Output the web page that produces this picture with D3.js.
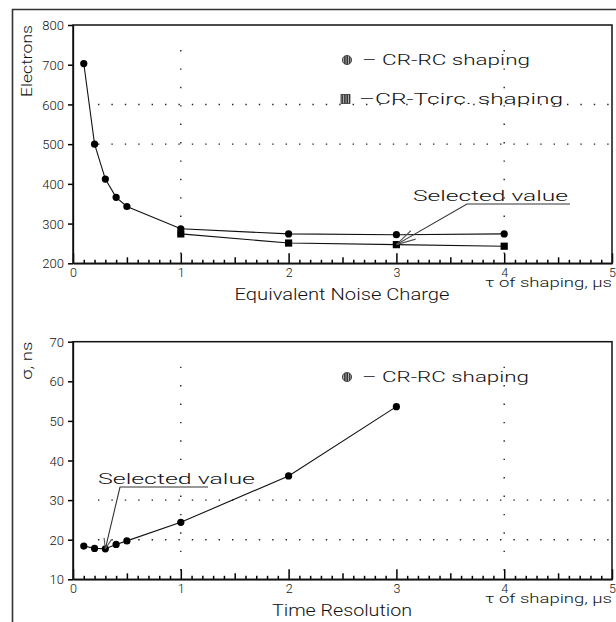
<!DOCTYPE html>
<html>
<head>
<meta charset="utf-8">
<script src="https://cdn.jsdelivr.net/npm/d3@7"></script>
<style>
body{margin:0;background:#fff;}
text{font-family:Roboto,"Liberation Sans",Arial,sans-serif;font-weight:300;fill:#111;}
</style>
</head>
<body>
<div id="chart"></div>
<script>
// data
var tauRC = [0.1,0.2,0.3,0.4,0.5,1,2,3,4];
var encRC = [703,500,412,366,343,287,274,272,274];
var tauTc = [1,2,3,4];
var encTc = [274,251,247,243];
var tauTime = [0.1,0.2,0.3,0.4,0.5,1,2,3];
var sigmaRC = [18.4,17.8,17.7,18.8,19.7,24.4,36.1,53.6];
var tauTicks = [0,1,2,3,4,5];
var tauMinor = [0.1,0.2,0.3,0.4,0.5,0.6,0.7,0.8,0.9];
var encTicks = [200,300,400,500,600,700,800];
var sigmaTicks = [10,20,30,40,50,60,70];
var encGrid = [500,600];
var sigmaGrid = [20,30];
var tauGrid = [1,4];

var svg = d3.select("#chart").append("svg")
	.attr("width",616)
	.attr("height",622);

var defs = svg.append("defs");
var pat = defs.append("pattern")
	.attr("id","stripes")
	.attr("patternUnits","userSpaceOnUse")
	.attr("width",2.4)
	.attr("height",4);
pat.append("rect").attr("width",2.4).attr("height",4).attr("fill","#333");
pat.append("rect").attr("width",0.9).attr("height",4).attr("fill","#bbb");

//outer frame
svg.append("path")
	.attr("d","M12.5,622V9.5H616")
	.attr("fill","none")
	.attr("stroke","#333")
	.attr("stroke-width",1.6);

var x = d3.scaleLinear().domain([0,5]).range([73,612]);
// every tenth between the integer ticks
var minorTicks = [];
tauTicks.slice(0,-1).forEach(function(t){
	tauMinor.forEach(function(m){ minorTicks.push(t+m); });
});

function panel(cfg){
	var y = d3.scaleLinear().domain(cfg.ydom).range([cfg.bottom,cfg.top]);
	var g = svg.append("g");
	//grid
	g.selectAll(".hg").data(cfg.grid).enter().append("line")
		.attr("x1",x(0)+25).attr("x2",x(5))
		.attr("y1",function(d){return y(d);}).attr("y2",function(d){return y(d);})
		.attr("stroke","#222").attr("stroke-width",1.4)
		.attr("stroke-dasharray","1.4,12");
	g.selectAll(".vg").data(tauGrid).enter().append("line")
		.attr("y1",cfg.top+25).attr("y2",cfg.bottom)
		.attr("x1",function(d){return x(d);}).attr("x2",function(d){return x(d);})
		.attr("stroke","#222").attr("stroke-width",1.4)
		.attr("stroke-dasharray","1.4,17");
	//axes
	var gx = g.append("g").attr("transform","translate(0,"+cfg.bottom+")")
		.call(d3.axisTop(x).tickValues(tauTicks).tickSizeInner(10).tickSizeOuter(0).tickFormat(d3.format("d")));
	gx.selectAll(".tick text").attr("dy",0).attr("y",14).style("font-size","12.5px");
	var gm = g.append("g").attr("transform","translate(0,"+cfg.bottom+")")
		.call(d3.axisTop(x).tickValues(minorTicks).tickSizeInner(3.5).tickSizeOuter(0).tickFormat(""));
	gm.selectAll(".tick line").filter(function(d){return Math.abs(d%1-0.5)<0.01;}).attr("y2",-6);
	gm.select(".domain").remove();
	var gy = g.append("g").attr("transform","translate("+x(0)+",0)")
		.call(d3.axisLeft(y).tickValues(cfg.yticks).tickSizeInner(5).tickSizeOuter(0).tickPadding(4).tickFormat(d3.format("d")));
	gy.selectAll("text").style("font-size","13px").attr("dy","0.36em");
	g.selectAll(".tick line").attr("stroke","#000").attr("stroke-width",1.5);
	g.selectAll(".domain").attr("stroke","#000").attr("stroke-width",1.3);
	g.append("rect")
		.attr("x",x(0)).attr("y",cfg.top)
		.attr("width",x(5)-x(0)).attr("height",cfg.bottom-cfg.top)
		.attr("fill","none").attr("stroke","#111").attr("stroke-width",1.5);
	//titles
	g.append("text").text(cfg.title)
		.attr("x",342).attr("y",cfg.bottom+37)
		.attr("text-anchor","middle")
		.attr("textLength",cfg.titleLen).attr("lengthAdjust","spacingAndGlyphs")
		.style("font-size","16px");
	g.append("text").text("\u03c4 of shaping, \u03bcs")
		.attr("x",485).attr("y",cfg.bottom+24)
		.attr("textLength",127).attr("lengthAdjust","spacingAndGlyphs")
		.style("font-size","12.5px");
	g.append("text").text(cfg.ytitle)
		.attr("transform","translate(32,"+cfg.top+") rotate(-90)")
		.attr("text-anchor","end")
		.attr("textLength",cfg.ytitleLen).attr("lengthAdjust","spacingAndGlyphs")
		.style("font-size","15px");
	//series
	var line = d3.line().x(function(d){return x(d[0]);}).y(function(d){return y(d[1]);});
	cfg.series.forEach(function(s){
		var pts = d3.zip(s.tau,s.val);
		g.append("path").attr("d",line(pts))
			.attr("fill","none").attr("stroke","#111").attr("stroke-width",1.1);
		if(s.shape=="circle"){
			g.selectAll(null).data(pts).enter().append("circle")
				.attr("cx",function(d){return x(d[0]);})
				.attr("cy",function(d){return y(d[1]);})
				.attr("r",3.6).attr("fill","#000");
		}else{
			g.selectAll(null).data(pts).enter().append("rect")
				.attr("x",function(d){return x(d[0])-3.6;})
				.attr("y",function(d){return y(d[1])-3.6;})
				.attr("width",7.2).attr("height",7.2).attr("fill","#000");
		}
	});
	//legend
	cfg.legend.forEach(function(l){
		if(l.shape=="circle"){
			g.append("circle").attr("cx",347).attr("cy",l.y-5)
				.attr("r",4.6).attr("fill","url(#stripes)").attr("stroke","#333").attr("stroke-width",0.8);
		}else{
			g.append("rect").attr("x",341).attr("y",l.y-9.5)
				.attr("width",9).attr("height",9)
				.attr("fill","url(#stripes)").attr("stroke","#333").attr("stroke-width",0.8);
		}
		g.append("text").text(l.label)
			.attr("x",l.x).attr("y",l.y)
			.attr("textLength",l.len).attr("lengthAdjust","spacingAndGlyphs")
			.style("font-size","15px");
	});
	//selected value note
	var s = cfg.sel;
	var tx = x(s.tau), ty = y(s.val);
	g.append("text").text("Selected value")
		.attr("x",s.tx).attr("y",s.ty)
		.attr("textLength",s.tlen).attr("lengthAdjust","spacingAndGlyphs")
		.style("font-size","15px");
	g.append("path")
		.attr("d","M"+s.ux2+","+(s.ty+3)+"H"+s.ux1+"L"+tx+","+ty)
		.attr("fill","none").attr("stroke","#333").attr("stroke-width",1.1);
	var ang = Math.atan2(s.ty+3-ty,s.ux1-tx);
	[-1,1].forEach(function(k){
		var a = ang+k*s.head[1]*Math.PI/180;
		g.append("line")
			.attr("x1",tx).attr("y1",ty)
			.attr("x2",tx+Math.cos(a)*s.head[0]).attr("y2",ty+Math.sin(a)*s.head[0])
			.attr("stroke","#555").attr("stroke-width",1.1);
	});
}

panel({
	ydom:[200,800], top:25, bottom:263.3,
	yticks:encTicks, grid:encGrid,
	title:"Equivalent Noise Charge", titleLen:215,
	ytitle:"Electrons", ytitleLen:72,
	series:[{tau:tauRC,val:encRC,shape:"circle"},{tau:tauTc,val:encTc,shape:"square"}],
	legend:[{shape:"circle",label:"\u2013 CR-RC  shaping",x:362,y:65,len:168},
		{shape:"square",label:"\u2013CR-Tcirc. shaping",x:359,y:104,len:204}],
	sel:{tau:3,val:encTc[2],tx:413,ty:201,tlen:155,ux1:467,ux2:570,head:[20,14]}
});

panel({
	ydom:[10,70], top:341.7, bottom:579.3,
	yticks:sigmaTicks, grid:sigmaGrid,
	title:"Time Resolution", titleLen:140,
	ytitle:"\u03c3, ns", ytitleLen:38,
	series:[{tau:tauTime,val:sigmaRC,shape:"circle"}],
	legend:[{shape:"circle",label:"\u2013 CR-RC  shaping",x:362,y:382,len:167}],
	sel:{tau:0.3,val:sigmaRC[2],tx:98,ty:484,tlen:157,ux1:120,ux2:208,head:[11,20]}
});
</script>
</body>
</html>
